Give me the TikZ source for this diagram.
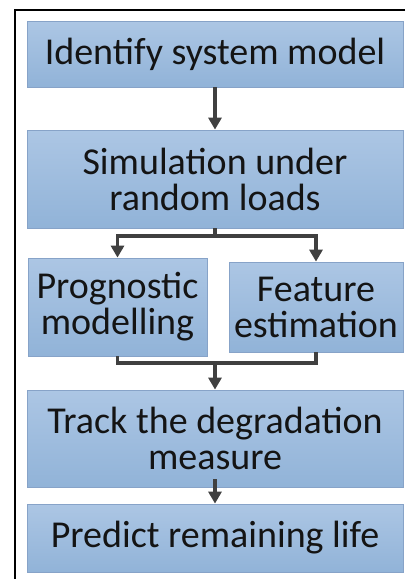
\documentclass[tikz,border=0pt]{standalone}
\usepackage{fontspec}
\setmainfont{Carlito}
\usetikzlibrary{arrows.meta,shadows}
\definecolor{boxtop}{RGB}{172,198,228}
\definecolor{boxbot}{RGB}{145,179,216}
\definecolor{boxedge}{RGB}{135,163,200}
\definecolor{arr}{RGB}{64,64,64}
\tikzset{
  flowbox/.style={draw=boxedge, line width=0.8pt, top color=boxtop, bottom color=boxbot,
    rectangle, inner sep=0pt, align=center, text=black!92,
    font=\fontsize{38}{36}\selectfont,
    drop shadow={shadow xshift=1.2pt, shadow yshift=-1.2pt, fill=black!25, opacity=0.6}},
  flowarrow/.style={draw=arr, line width=3.4pt, -{Triangle[width=13pt,length=12pt]}},
  flowline/.style={draw=arr, line width=3.4pt},
  frameline/.style={draw=black, line width=2.6pt}
}
\begin{document}
\begin{tikzpicture}[x=1pt,y=1pt]
\useasboundingbox (0,0) rectangle (407,-579);
\fill[white] (0,0) rectangle (407,-579);
\coordinate (ftl) at (15,-10);
\coordinate (ftr) at (405,-10);
\coordinate (fbl) at (15,-579);
\draw[frameline] (ftr) -- (ftl) -- (fbl);

\node[flowbox, minimum width=376pt, minimum height=66pt] (b1) at (215,-54) {Identify system model};
\node[flowbox, minimum width=376pt, minimum height=98pt] (b2) at (215,-179) {Simulation under\\random loads};
\node[flowbox, minimum width=179pt, minimum height=98pt] (b3) at (117.5,-307) {Prognostic\\modelling};
\node[flowbox, minimum width=174pt, minimum height=90pt] (b4) at (316,-307) {Feature\\estimation};
\node[flowbox, minimum width=376pt, minimum height=97pt] (b5) at (215,-438.5) {Track the degradation\\measure};
\node[flowbox, minimum width=376pt, minimum height=68pt] (b6) at (215,-538) {Predict remaining life};

\draw[flowarrow] (b1.south) -- (b2.north);
\coordinate (split) at (215,-236);
\draw[flowline] (b2.south) -- (split);
\draw[flowarrow] (split) -| (b3.north);
\draw[flowarrow] (split) -| (b4.north);
\coordinate (merge) at (215,-363);
\draw[flowline] (b3.south) |- (merge) -| (b4.south);
\draw[flowarrow] (merge) -- (b5.north);
\draw[flowarrow] ([yshift=8pt]b5.south) -- (b6.north);
\end{tikzpicture}
\end{document}
